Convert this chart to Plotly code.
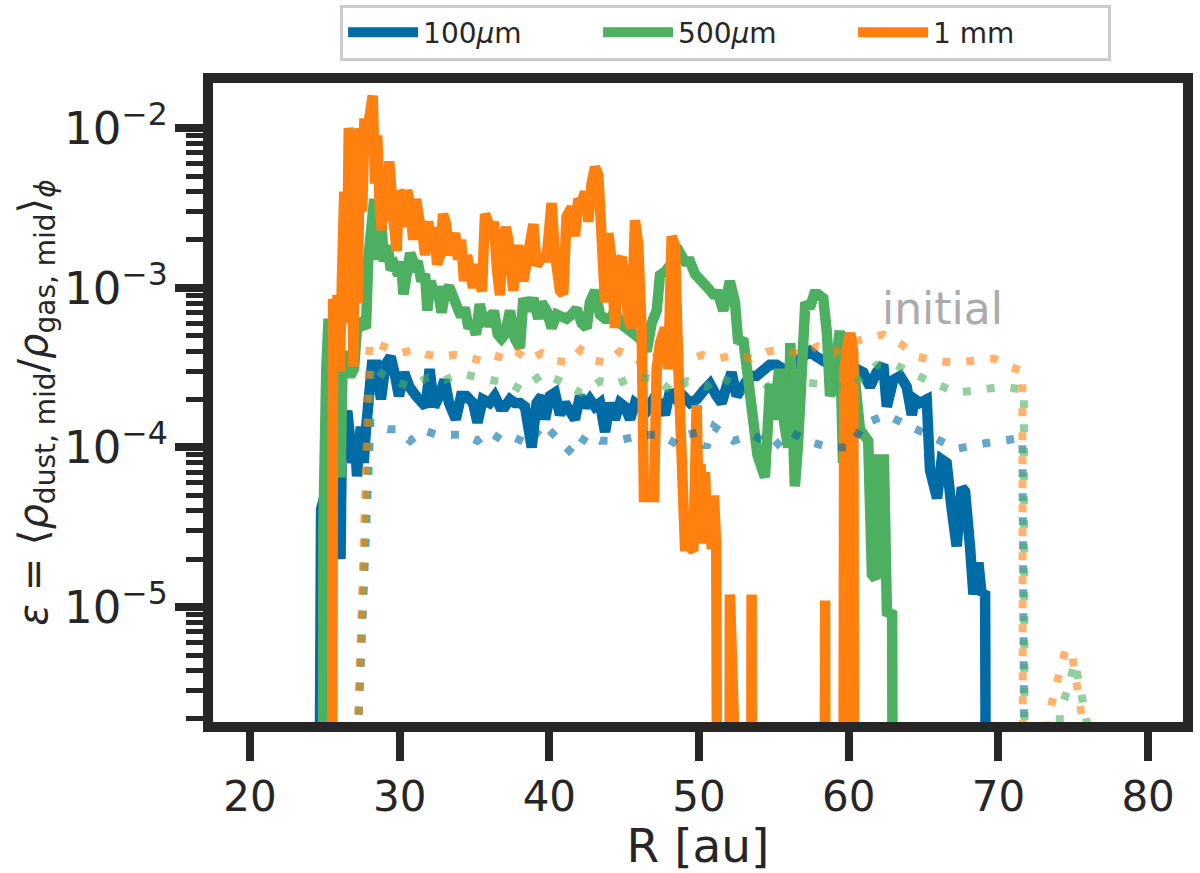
import plotly.graph_objects as go

# ---------------- data ----------------
# 1 mm (orange) final state
mm1_x = [25.45, 25.55, 25.70, 25.85, 26.00, 26.15, 26.30, 26.45, 26.60, 26.75, 26.90, 27.05, 27.20, 27.35,
         27.50, 27.65, 27.80, 27.95, 28.10, 28.20, 28.35, 28.50, 28.65, 28.80, 28.95, 29.10, 29.30, 29.45,
         29.60, 29.80, 29.95, 30.15, 30.35, 30.50, 30.70, 30.90, 31.10, 31.30, 31.50, 31.70, 31.90, 32.10,
         32.30, 32.50, 32.70, 32.90, 33.10, 33.30, 33.50, 33.70, 33.90, 34.10, 34.30, 34.50, 34.70, 34.90,
         35.10, 35.30, 35.50, 35.70, 35.90, 36.10, 36.30, 36.50, 36.70, 36.90, 37.10, 37.26, 37.59, 37.92,
         38.26, 38.59, 38.93, 39.15, 39.48, 39.82, 40.15, 40.37, 40.71, 40.93, 41.15, 41.49, 41.71, 41.93,
         42.16, 42.38, 42.60, 42.82, 43.05, 43.27, 43.49, 43.72, 43.94, 44.16, 44.38, 44.61, 44.83, 45.05,
         45.27, 45.50, 45.72, 45.94, 46.17, 46.32, 46.72, 46.99, 47.17, 47.39, 47.72, 47.95, 48.17, 48.39,
         48.62, 48.84, 49.06, 49.28, 49.62, 49.84, 50.00, 50.10, 50.25, 50.40, 50.55, 50.70, 50.85, 51.00,
         51.15, 51.30, 52.00, 52.06, 52.12, 53.45, 53.51, 53.57, 58.36, 58.42, 58.48, 59.60, 59.70, 59.95,
         60.10, 60.30, 60.40]
mm1_y = [1e-9, 8.5e-4, 5e-4, 9e-4, 3e-4, 1.2e-3, 4.0e-3, 6e-4, 1.0e-2, 8.5e-3, 3.2e-4, 9.5e-3, 8e-4, 1.0e-2,
         3.0e-3, 1.15e-2, 9e-3, 1.1e-2, 1.3e-2, 1.6e-2, 4.5e-3, 9e-3, 3.5e-3, 2.3e-3, 5e-3, 2.6e-3, 6.2e-3, 2.9e-3,
         2.65e-3, 1.7e-3, 4.0e-3, 3.8e-3, 2.4e-3, 4.1e-3, 3.3e-3, 2.0e-3, 3.6e-3, 2.7e-3, 2.3e-3, 1.6e-3, 2.6e-3, 1.9e-3,
         2.4e-3, 1.4e-3, 1.6e-3, 2.9e-3, 2.5e-3, 1.6e-3, 1.9e-3, 2.2e-3, 1.5e-3, 2.0e-3, 1.1e-3, 1.6e-3, 1.25e-3, 1.0e-3,
         1.4e-3, 1.15e-3, 9.5e-4, 2.9e-3, 2.6e-3, 2.0e-3, 2.6e-3, 1.3e-3, 9e-4, 2.0e-3, 2.4e-3, 1.97e-3, 9.6e-4, 1.85e-3,
         1.1e-3, 1.65e-3, 2.5e-3, 1.38e-3, 1.55e-3, 1.55e-3, 3.4e-3, 1.65e-3, 9.6e-4, 9.1e-4, 2.8e-3, 3.2e-3, 2.1e-3, 3.6e-3,
         3.4e-3, 4.0e-3, 2.6e-3, 4.5e-3, 5.7e-3, 5.1e-3, 1.85e-3, 8.1e-4, 2.2e-3, 1.46e-3, 5.6e-4, 1.46e-3, 1.55e-3, 1.15e-3,
         6.4e-4, 5.6e-4, 2.65e-3, 1.85e-3, 5.1e-4, 4.9e-5, 4.9e-5, 4.9e-5, 3.1e-4, 4.5e-4, 5.6e-4, 3.1e-4, 2.1e-3, 1.85e-3,
         3.1e-4, 9.5e-5, 2.4e-5, 2.4e-5, 2.25e-5, 1.84e-4, 2.5e-5, 7.9e-5, 2.6e-5, 7e-5, 2.5e-5, 5e-5, 2.3e-5, 5e-5,
         2.3e-5, 1e-9, 1e-9, 1.2e-5, 1e-9, 1e-9, 1.2e-5, 1e-9, 1e-9, 1.1e-5, 1e-9, 1e-9, 3e-4, 4.5e-4,
         5.2e-4, 4e-4, 1e-9]

# 500 micron (green) final state
um500_x = [24.85, 24.90, 25.10, 25.25, 25.50, 25.80, 26.05, 26.20, 26.45, 26.70, 26.95, 27.15, 27.45, 27.75,
           27.90, 28.10, 28.30, 28.50, 28.75, 28.95, 29.20, 29.40, 29.65, 29.90, 30.10, 30.25, 30.50, 30.70,
           31.00, 31.20, 31.45, 31.70, 31.85, 32.05, 32.35, 32.50, 32.80, 33.05, 33.30, 33.55, 33.80, 34.10,
           34.35, 34.60, 34.85, 35.10, 35.35, 35.60, 35.80, 36.05, 36.30, 36.55, 36.80, 37.03, 37.37, 37.70,
           38.04, 38.26, 38.59, 38.93, 39.26, 39.48, 39.82, 40.15, 40.49, 40.82, 41.15, 41.49, 41.82, 42.16,
           42.49, 42.71, 43.05, 43.38, 43.72, 44.05, 44.38, 44.72, 45.16, 45.61, 46.05, 46.50, 46.83, 47.17,
           47.39, 47.72, 48.06, 48.39, 48.73, 49.06, 49.39, 49.73, 50.06, 50.50, 50.95, 51.28, 51.62, 52.06,
           52.40, 52.62, 52.95, 53.18, 53.40, 53.70, 53.90, 54.40, 54.75, 55.00, 55.35, 55.65, 55.95, 56.10,
           56.40, 56.60, 56.85, 57.10, 57.40, 57.70, 57.95, 58.30, 58.55, 58.75, 59.00, 59.20, 59.40, 59.62,
           59.90, 60.15, 60.40, 60.75, 61.00, 61.30, 61.55, 61.80, 62.00, 62.35, 62.55, 62.90, 63.00]
um500_y = [1e-9, 3e-5, 3.1e-4, 6.4e-4, 5e-4, 7.2e-4, 6.5e-5, 4e-4, 3.1e-4, 2.8e-4, 3.1e-4, 5.6e-4, 6e-4, 5.6e-4,
           1.5e-3, 3.0e-3, 3.6e-3, 1.5e-3, 2.8e-3, 1.46e-3, 1.85e-3, 1.3e-3, 1.38e-3, 1.2e-3, 1.46e-3, 9.1e-4, 1.3e-3, 1.65e-3,
           1.4e-3, 1.46e-3, 1.1e-3, 1.22e-3, 7.2e-4, 1.1e-3, 9e-4, 1.02e-3, 7e-4, 9.5e-4, 1.02e-3, 8.6e-4, 8.1e-4, 6.6e-4,
           7.5e-4, 5.6e-4, 6e-4, 5.1e-4, 7.9e-4, 6.2e-4, 6.4e-4, 5.8e-4, 7.2e-4, 5.1e-4, 4.8e-4, 5.1e-4, 7.2e-4, 4.8e-4,
           4.2e-4, 8.6e-4, 7.2e-4, 8.6e-4, 6.4e-4, 8.1e-4, 7.2e-4, 5.6e-4, 6.8e-4, 6.6e-4, 6.4e-4, 6.8e-4, 7.4e-4, 6e-4,
           5.6e-4, 8.1e-4, 9.6e-4, 6.8e-4, 6.4e-4, 6.4e-4, 7.2e-4, 6e-4, 5.6e-4, 5.1e-4, 4.8e-4, 4e-4, 6e-4, 7.2e-4,
           1.2e-3, 1.26e-3, 1.38e-3, 1.55e-3, 1.65e-3, 1.46e-3, 1.46e-3, 1.22e-3, 1.15e-3, 1.02e-3, 9.1e-4, 9.1e-4, 7.2e-4, 1.1e-3,
           8.1e-4, 4.5e-4, 4.8e-4, 3.4e-4, 2.2e-4, 1.3e-4, 9e-5, 6.5e-5, 2.5e-4, 1.5e-4, 3.1e-4, 1.5e-4, 1e-4, 4.5e-4,
           5.7e-5, 1e-4, 3.5e-4, 8.1e-4, 7.5e-4, 9.1e-4, 9.1e-4, 8.6e-4, 5.1e-4, 2.1e-4, 2.5e-4, 4.6e-4, 5.4e-4, 8e-5,
           3.5e-4, 4.6e-4, 3e-4, 1.3e-4, 1.2e-4, 1.1e-4, 1.6e-5, 1.5e-5, 8.4e-5, 8.4e-5, 9.3e-6, 9e-6, 1e-9]

# 100 micron (blue) final state
um100_x = [24.50, 24.60, 24.75, 25.00, 25.30, 25.60, 25.90, 26.05, 26.15, 26.35, 26.50, 26.65, 26.85, 27.00,
           27.15, 27.40, 27.60, 27.75, 27.95, 28.15, 28.45, 28.75, 29.05, 29.40, 29.70, 29.95, 30.30, 30.65,
           31.10, 31.45, 31.75, 32.00, 32.30, 32.65, 33.00, 33.30, 33.75, 34.10, 34.45, 34.90, 35.20, 35.55,
           36.00, 36.35, 36.70, 37.03, 37.37, 37.70, 38.04, 38.37, 38.82, 39.15, 39.48, 39.71, 40.04, 40.37,
           40.71, 41.04, 41.38, 41.71, 42.05, 42.38, 42.71, 43.05, 43.38, 43.72, 44.05, 44.38, 44.72, 45.05,
           45.39, 45.72, 46.05, 46.50, 46.94, 47.39, 47.72, 48.06, 48.50, 48.95, 49.40, 49.84, 50.28, 50.73,
           51.17, 51.51, 51.84, 52.17, 52.51, 52.95, 53.40, 53.84, 54.29, 54.73, 55.18, 55.63, 56.07, 56.52,
           56.96, 57.41, 57.85, 58.30, 58.74, 59.19, 59.63, 60.08, 60.52, 60.97, 61.42, 61.86, 62.09, 62.31,
           62.54, 62.98, 63.43, 63.87, 64.21, 64.43, 64.76, 65.21, 65.43, 65.76, 65.90, 66.21, 66.54, 66.88,
           67.21, 67.55, 67.77, 68.10, 68.33, 68.66, 68.88, 69.11, 69.25]
um100_y = [1e-9, 1.3e-5, 4.1e-5, 5e-5, 4.5e-5, 4e-5, 3e-5, 2e-5, 1.6e-4, 1.4e-4, 1.7e-4, 1.1e-4, 8e-5, 1.2e-4,
           6.6e-5, 1.35e-4, 8e-5, 1.3e-4, 2.5e-4, 3.3e-4, 3.3e-4, 2e-4, 3.3e-4, 3.7e-4, 2.8e-4, 2.1e-4, 2.95e-4, 2.4e-4,
           2.1e-4, 1.9e-4, 1.8e-4, 3.1e-4, 1.8e-4, 2.1e-4, 2.65e-4, 1.9e-4, 1.5e-4, 2.1e-4, 2.1e-4, 1.9e-4, 1.43e-4, 2e-4,
           1.9e-4, 2.1e-4, 1.8e-4, 1.8e-4, 2e-4, 1.9e-4, 1.9e-4, 1.8e-4, 1.0e-4, 1.9e-4, 2.1e-4, 1.5e-4, 2.1e-4, 2.2e-4,
           1.6e-4, 1.9e-4, 1.7e-4, 1.5e-4, 2.1e-4, 1.8e-4, 2e-4, 1.8e-4, 1.9e-4, 1.25e-4, 1.9e-4, 1.5e-4, 1.9e-4, 1.8e-4,
           1.5e-4, 1.9e-4, 1.8e-4, 1.7e-4, 2e-4, 1.9e-4, 1.6e-4, 2.25e-4, 2e-4, 2.1e-4, 1.9e-4, 2e-4, 2.25e-4, 2.5e-4,
           2.1e-4, 1.9e-4, 2.4e-4, 2.95e-4, 2.1e-4, 2.5e-4, 2.8e-4, 2.8e-4, 3.1e-4, 3.3e-4, 3.3e-4, 3.1e-4, 3.1e-4, 3.5e-4,
           3.7e-4, 4e-4, 3.7e-4, 3.5e-4, 3.3e-4, 2.95e-4, 3.1e-4, 2.8e-4, 3.1e-4, 2.95e-4, 2.4e-4, 2.95e-4, 3.1e-4, 3.3e-4,
           1.8e-4, 2.65e-4, 2.8e-4, 2.4e-4, 1.6e-4, 2e-4, 1.9e-4, 2e-4, 7.2e-5, 5e-5, 4.8e-5, 8.4e-5, 8e-5, 4.1e-5,
           2.4e-5, 5.6e-5, 5.3e-5, 2.4e-5, 1.2e-5, 1.9e-5, 1.2e-5, 1.25e-5, 1e-9]

# initial profiles (dotted)
init100_x = [27.20, 28.05, 28.6, 29.2, 29.8, 30.7, 31.6, 32.5, 33.4, 34.3, 35.2, 36.0, 36.9, 37.7, 38.6, 39.6,
             40.7, 41.6, 42.5, 43.4, 44.5, 46.3, 47.4, 48.5, 49.2, 50.0, 50.5, 51.0, 52.3, 53.6, 55.0, 56.1,
             57.2, 58.7, 60.1, 61.0, 62.5, 64.1, 65.6, 67.2, 68.8, 70.3, 71.6, 71.85]
init100_y = [1.5e-6, 1.45e-4, 1.35e-4, 1.3e-4, 1.3e-4, 1.1e-4, 1.28e-4, 1.2e-4, 1.2e-4, 1.2e-4, 1.1e-4, 1.25e-4,
             1.1e-4, 1.15e-4, 1.05e-4, 1.4e-4, 1.1e-4, 9e-5, 1.2e-4, 1.1e-4, 1.1e-4, 1.2e-4, 1.2e-4, 1.05e-4,
             1.2e-4, 1.25e-4, 1.0e-4, 1.35e-4, 1.1e-4, 1.2e-4, 1.0e-4, 1.25e-4, 1.1e-4, 1.0e-4, 1.0e-4, 1.4e-4,
             1.6e-4, 1.35e-4, 1.15e-4, 9.8e-5, 1.05e-4, 1.1e-4, 1.15e-4, 1e-8]

init500_x = [27.20, 28.1, 28.8, 29.6, 30.7, 31.9, 33.0, 34.1, 35.2, 36.4, 37.4, 38.1, 39.6, 40.7, 42.1, 43.4,
             44.5, 45.8, 47.2, 48.3, 49.2, 50.5, 51.3, 52.3, 53.8, 55.2, 57.6, 60.1, 61.9, 63.1, 64.1, 65.7,
             67.2, 68.8, 70.3, 71.7, 71.8, 73.9, 74.1, 74.6, 75.1, 75.5, 75.9, 76.1]
init500_y = [1.5e-6, 3.3e-4, 2.9e-4, 2.6e-4, 2.4e-4, 2.75e-4, 2.65e-4, 2.9e-4, 2.75e-4, 2.65e-4, 2.5e-4, 2.3e-4,
             2.9e-4, 2.6e-4, 2.2e-4, 2.6e-4, 2.5e-4, 2.8e-4, 2.65e-4, 2.2e-4, 2.6e-4, 2.4e-4, 2.8e-4, 2.5e-4,
             2.1e-4, 2.65e-4, 2.5e-4, 2.4e-4, 3.3e-4, 3.3e-4, 2.95e-4, 2.5e-4, 2.2e-4, 2.3e-4, 2.4e-4, 2.3e-4,
             1e-8, 1e-8, 2.2e-6, 3e-6, 4.5e-6, 3e-6, 1.9e-6, 1e-8]

init1mm_x = [27.20, 28.0, 28.6, 29.3, 30.1, 31.0, 31.9, 32.8, 33.7, 34.5, 35.4, 36.2, 37.0, 37.8, 38.6, 39.5,
             40.4, 41.3, 42.1, 43.0, 43.9, 44.7, 45.6, 46.5, 47.4, 48.3, 49.2, 50.2, 51.3, 52.4, 53.5, 54.6,
             55.7, 56.8, 57.9, 59.0, 60.2, 61.2, 62.3, 63.4, 64.6, 65.7, 67.0, 68.5, 69.7, 70.8, 71.6, 71.65,
             73.1, 73.3, 73.9, 74.5, 74.9, 75.3, 75.6, 75.8]
init1mm_y = [1.5e-6, 4.6e-4, 4.4e-4, 4.2e-4, 3.9e-4, 4.1e-4, 3.8e-4, 3.7e-4, 3.8e-4, 3.7e-4, 3.5e-4, 3.8e-4,
             3.6e-4, 4.0e-4, 3.5e-4, 3.9e-4, 3.5e-4, 3.4e-4, 4.1e-4, 3.5e-4, 3.4e-4, 4.0e-4, 3.7e-4, 3.2e-4,
             4.0e-4, 3.8e-4, 3.5e-4, 3.8e-4, 3.6e-4, 3.8e-4, 3.6e-4, 4.0e-4, 4.1e-4, 3.8e-4, 4.3e-4, 3.9e-4,
             4.6e-4, 4.8e-4, 5.1e-4, 4.5e-4, 3.7e-4, 3.5e-4, 3.4e-4, 3.5e-4, 3.6e-4, 3.2e-4, 3.0e-4, 1e-8,
             1e-8, 2e-6, 3.5e-6, 5.5e-6, 5.1e-6, 3.2e-6, 2e-6, 1e-8]

series_names = ["100<i>μ</i>m", "500<i>μ</i>m", "1 mm"]
x_ticks = [20, 30, 40, 50, 60, 70, 80]

# ---------------- styling ----------------
BLUE = "#006BA4"
GREEN = "#4DAF60"
ORANGE = "#FF800E"
DARK = "#262626"
FONT = "DejaVu Sans"


def rgba(hex_color, a):
    h = hex_color.lstrip("#")
    r, g, b = int(h[0:2], 16), int(h[2:4], 16), int(h[4:6], 16)
    return f"rgba({r},{g},{b},{a})"


fig = go.Figure()

solid = [(um100_x, um100_y, BLUE, series_names[0]),
         (um500_x, um500_y, GREEN, series_names[1]),
         (mm1_x, mm1_y, ORANGE, series_names[2])]
for xs, ys, col, name in solid:
    fig.add_trace(go.Scatter(x=xs, y=ys, mode="lines", name=name,
                             line=dict(color=col, width=10.5, shape="linear"),
                             hoverinfo="skip"))

dotted = [(init100_x, init100_y, BLUE), (init500_x, init500_y, GREEN), (init1mm_x, init1mm_y, ORANGE)]
for xs, ys, col in dotted:
    fig.add_trace(go.Scatter(x=xs, y=ys, mode="lines", showlegend=False,
                             line=dict(color=rgba(col, 0.6), width=8, dash="8px,16px"),
                             hoverinfo="skip"))

fig.add_annotation(x=66.23, y=-3.13, xref="x", yref="y", text="initial", showarrow=False,
                   font=dict(family=FONT, size=44, color="#ABABAB"))

fig.update_layout(
    width=1200, height=873,
    margin=dict(l=213, r=17, t=83, b=151, autoexpand=False),
    paper_bgcolor="white", plot_bgcolor="white",
    font=dict(family=FONT, color=DARK),
    showlegend=True,
    legend=dict(orientation="h", x=0.131, xanchor="left", y=1.035, yanchor="bottom",
                bgcolor="white", bordercolor="#CCCCCC", borderwidth=3,
                font=dict(family=FONT, size=28, color=DARK),
                itemwidth=70, entrywidth=170, entrywidthmode="pixels"),
    xaxis=dict(range=[17.53, 82.33], tickvals=x_ticks, ticks="outside", ticklen=29, tickwidth=8,
               tickcolor=DARK, showline=True, linewidth=10, linecolor=DARK, mirror=True,
               showgrid=False, zeroline=False,
               tickfont=dict(family=FONT, size=42, color=DARK),
               title=dict(text="R [au]", font=dict(family=FONT, size=47, color=DARK), standoff=10)),
    yaxis=dict(type="log", range=[-5.72, -1.717], dtick=1, exponentformat="power",
               ticks="outside", ticklen=28, tickwidth=8, tickcolor=DARK,
               showline=True, linewidth=10, linecolor=DARK, mirror=True,
               showgrid=False, zeroline=False,
               minor=dict(ticks="outside", ticklen=17, tickwidth=4.5, tickcolor=DARK, dtick="D1",
                          showgrid=False),
               tickfont=dict(family=FONT, size=36, color=DARK),
               title=dict(text="<i>ε</i> = ⟨<i>ρ</i><sub>dust, mid</sub>/<i>ρ</i><sub>gas, mid</sub>⟩<sub><i>ϕ</i></sub>",
                          font=dict(family=FONT, size=40, color=DARK), standoff=8)),
)

fig.write_html("out.html")
